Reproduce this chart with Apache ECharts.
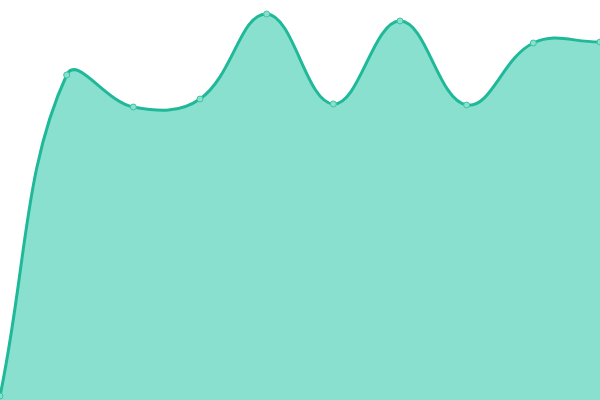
<!DOCTYPE html>
<html>
<head>
<meta charset="utf-8">
<script src="https://cdn.jsdelivr.net/npm/echarts@6/dist/echarts.min.js"></script>
<style>
  html, body { margin: 0; padding: 0; background: #fff; }
  #chart { width: 600px; height: 400px; }
</style>
</head>
<body>
<div id="chart"></div>
<script>
const categories = ['1', '2', '3', '4', '5', '6', '7', '8', '9', '10'];
const values = [4, 325, 293, 301, 386, 296, 379, 295, 357, 358];

const TENSION = 0.4;
const LINE_COLOR = '#1fb999';
const AREA_COLOR = '#89e0cf';

// spline control points: tangent from prev to next, split by segment length,
// end points use themselves as the missing neighbour
function controlPoints(pts, w, h) {
  const clamp = (v, lo, hi) => Math.min(hi, Math.max(lo, v));
  return pts.map((p, i) => {
    const prev = pts[i - 1] || p;
    const next = pts[i + 1] || p;
    const d01 = Math.hypot(p[0] - prev[0], p[1] - prev[1]);
    const d12 = Math.hypot(next[0] - p[0], next[1] - p[1]);
    const s01 = d01 / (d01 + d12) || 0;
    const s12 = d12 / (d01 + d12) || 0;
    const fa = TENSION * s01, fb = TENSION * s12;
    const vx = next[0] - prev[0], vy = next[1] - prev[1];
    return {
      before: [clamp(p[0] - fa * vx, 0, w), clamp(p[1] - fa * vy, 0, h)],
      after: [clamp(p[0] + fb * vx, 0, w), clamp(p[1] + fb * vy, 0, h)]
    };
  });
}

function curvePath(pts, w, h) {
  const cps = controlPoints(pts, w, h);
  let d = 'M' + pts[0][0] + ' ' + pts[0][1];
  for (let i = 1; i < pts.length; i++) {
    const c0 = cps[i - 1].after, c1 = cps[i].before;
    d += ' C' + c0[0] + ' ' + c0[1] + ' ' + c1[0] + ' ' + c1[1] + ' ' + pts[i][0] + ' ' + pts[i][1];
  }
  return d;
}

const chart = echarts.init(document.getElementById('chart'));
chart.setOption({
  animation: false,
  grid: { left: 0, right: 0, top: 0, bottom: 0 },
  xAxis: {
    type: 'category',
    data: categories,
    boundaryGap: false,
    show: false
  },
  yAxis: {
    type: 'value',
    min: 0,
    max: 400,
    show: false
  },
  series: [{
    type: 'custom',
    clip: false,
    data: values.map((v, i) => [i, v]),
    renderItem: (params, api) => {
      const pt = api.coord([api.value(0), api.value(1)]);
      const children = [];
      if (params.dataIndex === 0) {
        const pts = values.map((v, i) => api.coord([i, v]));
        const base = api.coord([0, 0])[1];
        const line = curvePath(pts, api.getWidth(), api.getHeight());
        const last = pts[pts.length - 1];
        children.push({
          type: 'path',
          shape: { pathData: line + ' L' + last[0] + ' ' + base + ' L' + pts[0][0] + ' ' + base + ' Z' },
          style: { fill: AREA_COLOR }
        });
        children.push({
          type: 'path',
          shape: { pathData: line },
          style: { fill: null, stroke: LINE_COLOR, lineWidth: 3 }
        });
      }
      children.push({
        type: 'circle',
        shape: { cx: pt[0], cy: pt[1], r: 3 },
        style: { fill: '#8ae0cf', stroke: '#3cc4a5', lineWidth: 1 }
      });
      return { type: 'group', children };
    }
  }]
});
</script>
</body>
</html>
